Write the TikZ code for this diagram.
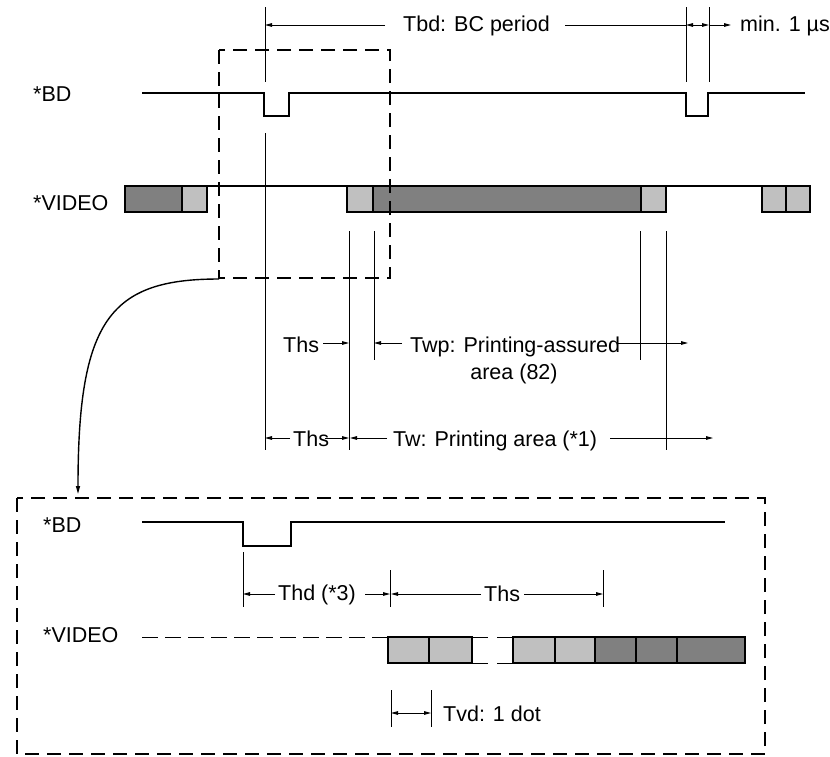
\documentclass[tikz,border=0pt]{standalone}
\usepackage{fontspec}
\setmainfont{Liberation Sans}
\usetikzlibrary{arrows.meta}
\definecolor{boxlight}{HTML}{C0C0C0}
\definecolor{boxdark}{HTML}{808080}
\begin{document}
\begin{tikzpicture}[x=1pt,y=-1pt,
  txt/.style={inner sep=0pt,anchor=base west,font=\fontsize{21.5}{24}\selectfont},
  sig/.style={line width=1.8pt,line join=miter},
  ext/.style={line width=0.9pt},
  dim/.style={line width=0.9pt,-{Triangle[length=7pt,width=3.6pt]}},
  dimb/.style={line width=0.9pt,{Triangle[length=7pt,width=3.6pt]}-{Triangle[length=7pt,width=3.6pt]}},
  zoombox/.style={line width=2.8pt,dash pattern=on 14pt off 8pt},
  lightbox/.style={fill=boxlight,draw=black,line width=1.8pt},
  darkbox/.style={fill=boxdark,draw=black,line width=1.8pt},
]
\useasboundingbox (0,0) rectangle (830,756);

% ---------------- top: labels ----------------
\node[txt] (bdlabel) at (33,101) {*BD};
\node[txt] (videolabel) at (33,210) {*VIDEO};

% BD signal
\draw[sig] (142,93) -- (264,93) -- (264,116) -- (289,116) -- (289,93)
  -- (686,93) -- (686,116) -- (708,116) -- (708,93) -- (805,93);

% VIDEO signal
\draw[sig] (207,186) -- (347,186);
\draw[sig] (666,186) -- (762,186);
\draw[darkbox] (125,186) rectangle (182,212);
\draw[lightbox] (182,186) rectangle (207,212);
\draw[lightbox] (347,186) rectangle (373,212);
\draw[darkbox] (373,186) rectangle (641,212);
\draw[lightbox] (641,186) rectangle (666,212);
\draw[lightbox] (762,186) rectangle (786,212);
\draw[lightbox] (786,186) rectangle (810,212);

% extension lines (top)
\draw[ext] (265,7) -- (265,82);
\draw[ext] (686,7) -- (686,82);
\draw[ext] (709,7) -- (709,82);
\draw[ext] (265,133) -- (265,450);
\draw[ext] (349,231) -- (349,450);
\draw[ext] (374,231) -- (374,360);
\draw[ext] (640,231) -- (640,360);
\draw[ext] (666,231) -- (666,450);

% Tbd
\node[txt] (tbd) at (403,31) {Tbd: BC period};
\draw[dim] (385,25) -- (265,25);
\draw[ext] (565,25) -- (686,25);
\draw[dimb] (686,25) -- (709,25);
\draw[dim] (709,25) -- (731,25);
\node[txt] (min) at (740,31) {min. 1 µs};

% Ths / Twp row
\node[txt] (ths1) at (283,352) {Ths};
\draw[dim] (323,343) -- (349,343);
\draw[dim] (402,343) -- (374,343);
\node[txt] (twp) at (410,352) {Twp: Printing-assured};
\node[txt,anchor=base] (twp2) at (514,379) {area (82)};
\draw[dim] (618,343) -- (688,343);

% Ths / Tw row
\draw[dim] (290,438) -- (265,438);
\node[txt] (ths2) at (293,446) {Ths};
\draw[dim] (325,438) -- (349,438);
\draw[dim] (387,438) -- (350,438);
\node[txt] (tw) at (393,446) {Tw: Printing area (*1)};
\draw[dim] (610,438) -- (713,438);

% zoom frame and curved arrow
\draw[zoombox] (219,50) rectangle (390,278);
\draw[line width=1.4pt,-{Triangle[length=8pt,width=4pt]}]
  (219,279) .. controls (110,279) and (78,320) .. (78,494);
\draw[zoombox] (17,498) rectangle (765,754);

% ---------------- bottom detail ----------------
\node[txt] (bdlabel2) at (43,532) {*BD};
\node[txt] (videolabel2) at (43,642) {*VIDEO};

\draw[sig] (142,522) -- (243,522) -- (243,546) -- (291,546) -- (291,522) -- (725,522);

\draw[ext] (243,552) -- (243,607);
\draw[ext] (390,570) -- (390,607);
\draw[ext] (603,570) -- (603,607);

\draw[dim] (275,594) -- (243,594);
\node[txt] (thd) at (278,600) {Thd (*3)};
\draw[dim] (365,594) -- (390,594);
\draw[dim] (481,594) -- (391,594);
\node[txt] (ths3) at (484,601) {Ths};
\draw[dim] (524,594) -- (603,594);

\draw[line width=1pt,dash pattern=on 16pt off 7pt] (142,637) -- (388,637);
\draw[line width=1pt,dash pattern=on 16pt off 9pt] (472,637) -- (513,637);
\draw[line width=1pt,dash pattern=on 16pt off 9pt] (472,663) -- (513,663);
\draw[lightbox] (388,637) rectangle (429,663);
\draw[lightbox] (429,637) rectangle (472,663);
\draw[lightbox] (513,637) rectangle (555,663);
\draw[lightbox] (555,637) rectangle (595,663);
\draw[darkbox] (595,637) rectangle (636,663);
\draw[darkbox] (636,637) rectangle (677,663);
\draw[darkbox] (677,637) rectangle (745,663);

\draw[ext] (391,690) -- (391,727);
\draw[ext] (431,690) -- (431,727);
\draw[dimb] (391,713) -- (431,713);
\node[txt] (tvd) at (443,721) {Tvd: 1 dot};
\end{tikzpicture}
\end{document}
